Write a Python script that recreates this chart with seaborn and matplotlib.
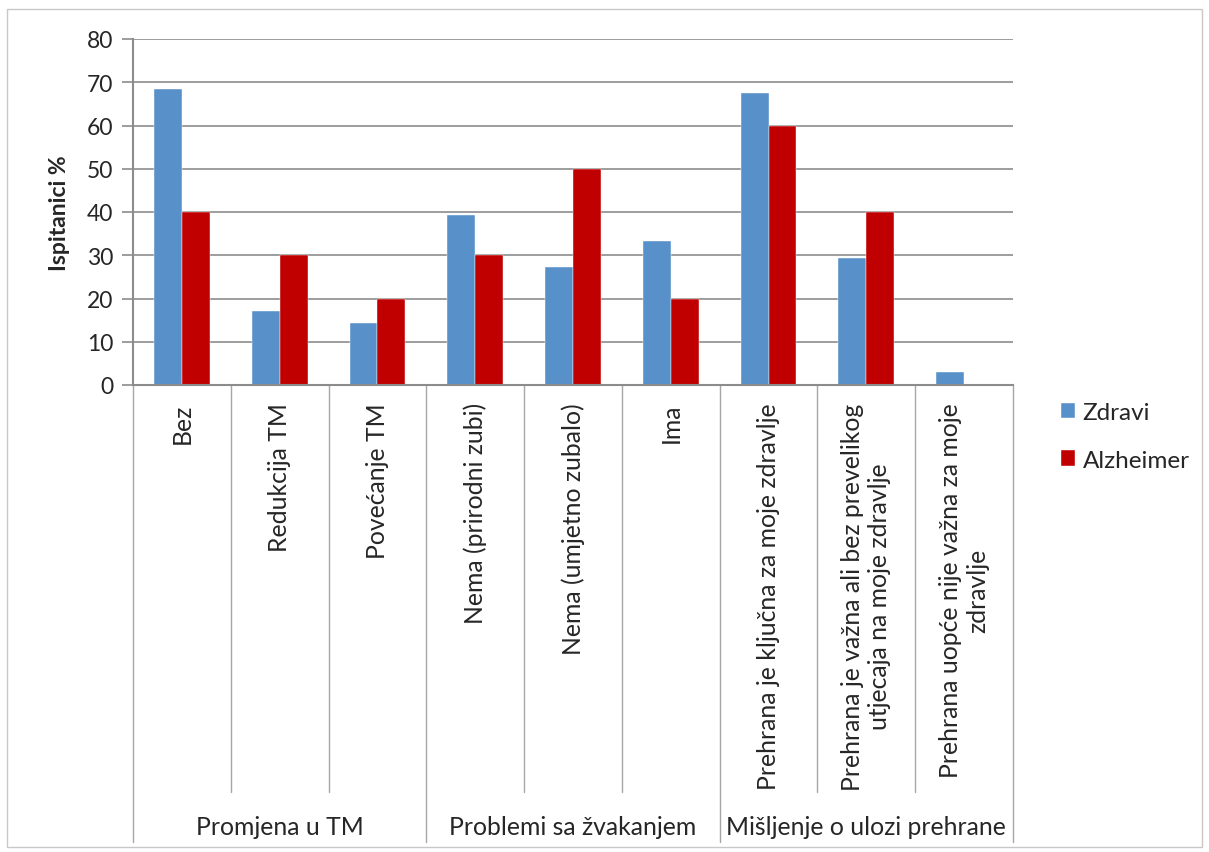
import seaborn as sns
import matplotlib.pyplot as plt
import pandas as pd
from matplotlib.patches import Rectangle

categories = ['Bez', 'Redukcija TM', 'Povećanje TM',
              'Nema (prirodni zubi)', 'Nema (umjetno zubalo)', 'Ima',
              'Prehrana je ključna za moje zdravlje',
              'Prehrana je važna ali bez prevelikog\nutjecaja na moje zdravlje',
              'Prehrana uopće nije važna za moje\nzdravlje']
zdravi = [68.4, 17.1, 14.3, 39.4, 27.3, 33.3, 67.5, 29.4, 2.9]
alzheimer = [40, 30, 20, 30, 50, 20, 60, 40, 0]
groups = ['Promjena u TM', 'Problemi sa žvakanjem', 'Mišljenje o ulozi prehrane']
group_sizes = [3, 3, 3]
series = ['Zdravi', 'Alzheimer']
colors = ['#5891c9', '#c00000']

df = pd.DataFrame({
    'cat': categories * 2,
    'val': zdravi + alzheimer,
    'serie': [series[0]] * len(categories) + [series[1]] * len(categories),
})

sns.set_style('white')
plt.rcParams['font.family'] = ['Lato', 'DejaVu Sans']
grid_col = '#8c8c8c'

fig = plt.figure(figsize=(12.09, 8.53), dpi=100)
ax = fig.add_axes([133 / 1209, 1 - 386 / 853, 880 / 1209, 346 / 853])

sns.barplot(data=df, x='cat', y='val', hue='serie', order=categories,
            palette=colors, saturation=1, width=0.57, gap=0, ax=ax,
            edgecolor='white', linewidth=0.3)

ax.set_ylim(0, 80)
ax.set_xlim(-0.5, len(categories) - 0.5)
ax.set_yticks(range(0, 81, 10))
ax.yaxis.grid(True, color=grid_col, linewidth=1.2)
ax.set_axisbelow(True)
ax.tick_params(axis='y', labelsize=16.5, length=8, width=1.2, color=grid_col,
               left=True, pad=6)
ax.tick_params(axis='x', bottom=False, labelbottom=False)
ax.set_xlabel('')
ax.set_ylabel('Ispitanici %', fontsize=16.5, fontweight='bold', labelpad=12)
for s in ['top', 'right']:
    ax.spines[s].set_visible(False)
for s in ['left', 'bottom']:
    ax.spines[s].set_color(grid_col)
    ax.spines[s].set_linewidth(1.5)

tr = ax.get_xaxis_transform()
# category labels
for i, c in enumerate(categories):
    ax.text(i, -0.05, c, transform=tr, rotation=90, ha='center', va='top',
            multialignment='center', fontsize=17.8, clip_on=False)

# separators
bounds = [-0.5]
for g in group_sizes:
    bounds.append(bounds[-1] + g)
for b in [x - 0.5 for x in range(len(categories) + 1)]:
    depth = -1.321 if b in bounds else -1.176
    ax.plot([b, b], [0, depth], transform=tr, color='#a6a6a6', lw=1,
            clip_on=False)

# group labels
for gi, g in enumerate(groups):
    centre = (bounds[gi] + bounds[gi + 1]) / 2
    ax.text(centre, -1.277, g, transform=tr, ha='center', va='center',
            fontsize=17.8, clip_on=False)

handles, labels = ax.get_legend_handles_labels()
ax.legend(handles, labels, loc='upper left', frameon=False,
          bbox_to_anchor=(1039 / 1209, 1 - 381 / 853),
          bbox_transform=fig.transFigure, fontsize=17.5,
          handlelength=0.6, handleheight=0.6, handletextpad=0.3,
          labelspacing=1.1)

fig.patches.append(Rectangle((7 / 1209, 1 - 848 / 853), 1195 / 1209,
                             838 / 853, transform=fig.transFigure,
                             fill=False, edgecolor='#c8c8c8', lw=1))

fig.savefig('out.png', dpi=100)
